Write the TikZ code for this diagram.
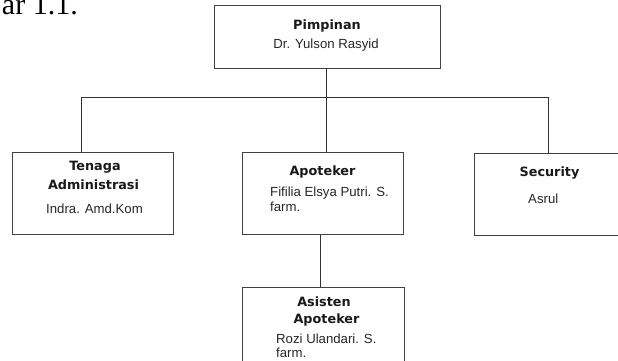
\documentclass[tikz,border=0pt]{standalone}
\usepackage{fontspec}
\setmainfont{Liberation Sans}
\newfontfamily\hfont{DejaVu Sans}
\newfontfamily\capfont{Liberation Serif}
\begin{document}
\begin{tikzpicture}[x=1pt,y=-1pt,
  box/.style={draw=black!75, line width=0.9pt, inner sep=0pt, anchor=north west},
  conn/.style={draw=black!80, line width=0.9pt},
  hd/.style={font=\hfont\bfseries\fontsize{12.8}{15}\selectfont, inner sep=0pt, anchor=base, text=black!90},
  tx/.style={font=\fontsize{13.2}{15}\selectfont, inner sep=0pt, text=black!85}]
\useasboundingbox (0,0) rectangle (618,360);
\node[font=\capfont\fontsize{30}{30}\selectfont, anchor=base east, inner sep=0pt] (cap) at (78,14) {ar 1.1.};
% boxes
\node[box, minimum width=226pt, minimum height=63pt] (pim) at (214,5) {};
\node[box, minimum width=161pt, minimum height=82pt] (ten) at (12,152) {};
\node[box, minimum width=161pt, minimum height=82pt] (apo) at (242,152) {};
\node[box, minimum width=170pt, minimum height=82pt] (sec) at (474,153) {};
\node[box, minimum width=162pt, minimum height=100pt] (asi) at (242,287) {};
% connectors
\coordinate (j0) at (326,97);
\coordinate (jl) at (81,97);
\coordinate (jr) at (548,97);
\coordinate (j1) at (320,240);
\draw[conn] (j0 |- pim.south) -- (j0 |- apo.north);
\draw[conn] (jl) -- (jr);
\draw[conn] (jl) -- (jl |- ten.north);
\draw[conn] (jr) -- (jr |- sec.north);
\draw[conn] (j1 |- apo.south) -- (j1 |- asi.north);
% texts
\node[hd] (pimT) at (327,29) {Pimpinan};
\node[tx, anchor=base] (pimN) at (326,48) {Dr. Yulson Rasyid};
\node[hd] (tenT1) at (95,170.5) {Tenaga};
\node[hd] (tenT2) at (93.5,189) {Administrasi};
\node[tx, anchor=base] (tenN) at (94.5,213) {Indra. Amd.Kom};
\node[hd] (apoT) at (322.5,175) {Apoteker};
\node[tx, anchor=base west] (apoN1) at (270,196) {Fifilia Elsya Putri. S.};
\node[tx, anchor=base west] (apoN2) at (270,211) {farm.};
\node[hd] (secT) at (549.5,176) {Security};
\node[tx, anchor=base west] (secN) at (528,203) {Asrul};
\node[hd] (asiT1) at (324,306) {Asisten};
\node[hd] (asiT2) at (326.5,323) {Apoteker};
\node[tx, anchor=base west] (asiN1) at (276,343) {Rozi Ulandari. S.};
\node[tx, anchor=base west] (asiN2) at (276,357) {farm.};
\end{tikzpicture}
\end{document}
